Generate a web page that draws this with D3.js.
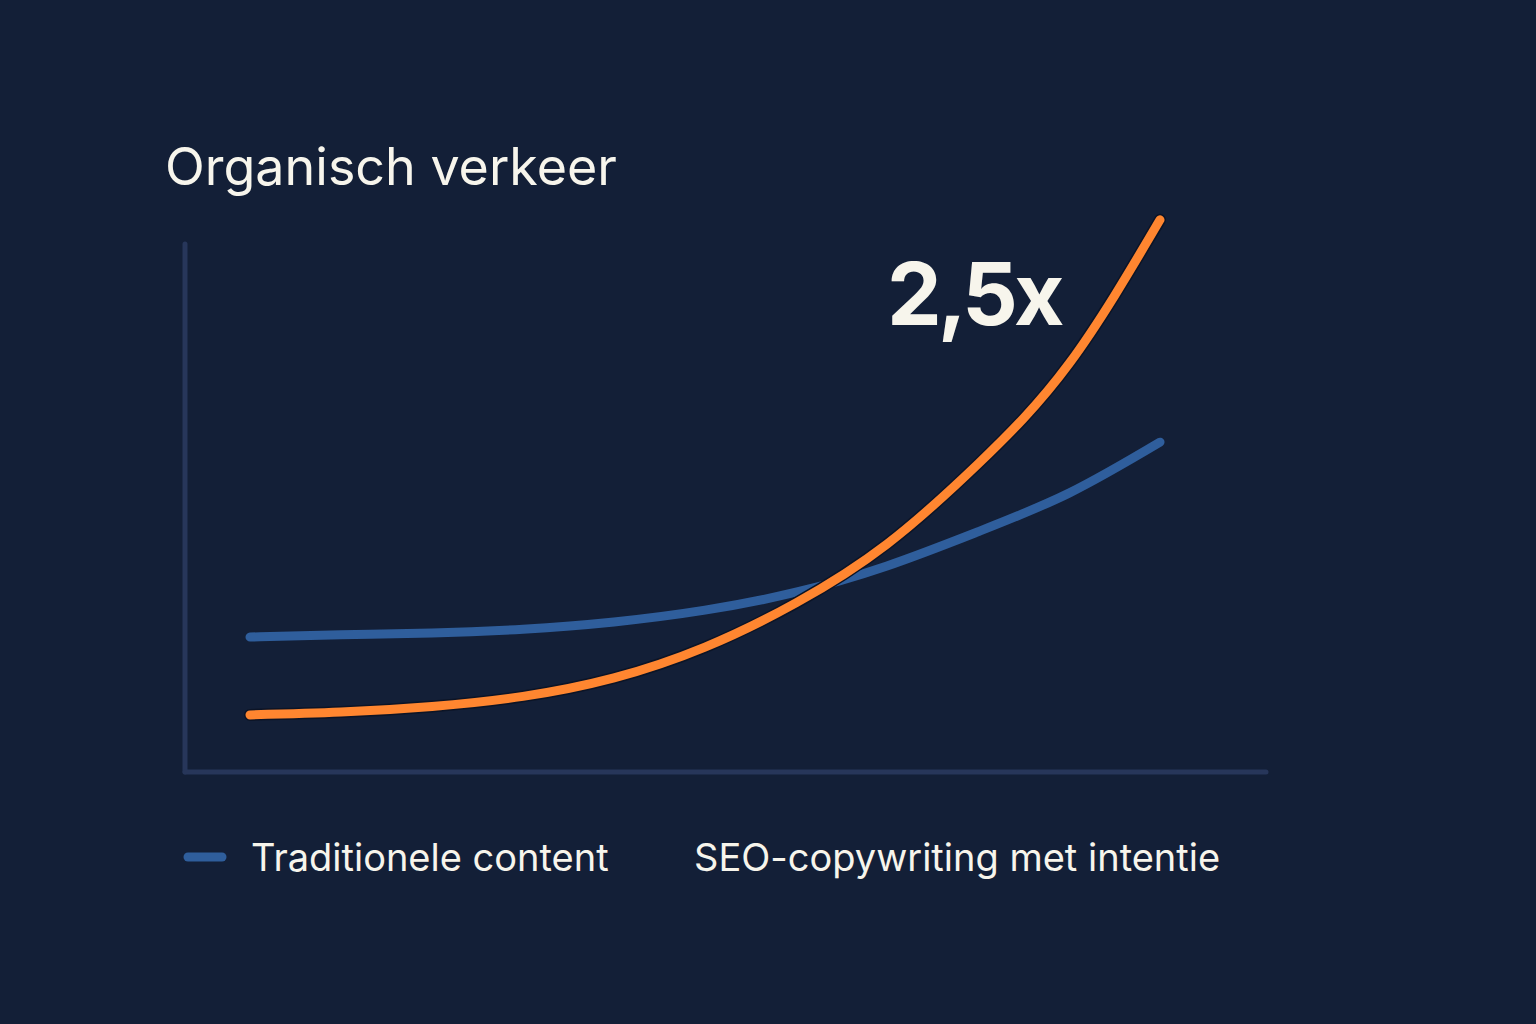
<!DOCTYPE html>
<html>
<head>
  <meta charset="utf-8">
  <title>Organisch verkeer</title>
  <style type="text/css">
    html, body {
      margin: 0;
      padding: 0;
      background-color: #131f37;
    }
    svg {
      display: block;
      font-family: Inter, "Noto Sans", sans-serif;
    }
    text {
      fill: #f7f5ec;
    }
  </style>
  <script src="https://d3js.org/d3.v7.min.js"></script>
</head>
<body>

<script>
// periods along the x axis (no tick labels in the picture)
var periods = [0, 1, 2, 3, 4, 5, 6, 7, 8, 9, 10];

// relative traffic index
var traditioneel = [24.1, 24.5, 24.8, 25.5, 26.8, 28.9, 32.1, 36.8, 42.9, 49.8, 58.9];
var seoIntentie  = [10.2, 10.7, 11.7, 13.5, 16.8, 22.3, 30.2, 40.7, 55.0, 72.9, 98.6];

var seriesNames = ["Traditionele content", "SEO-copywriting met intentie"];
var title = "Organisch verkeer";
var callout = "2,5x";

var width = 1536, height = 1024;

var svg = d3.select("body").append("svg")
  .attr("width", width)
  .attr("height", height);

svg.append("rect")
  .attr("width", width)
  .attr("height", height)
  .attr("fill", "#131f37");

var xscale = d3.scaleLinear()
  .domain([0, 10])
  .range([250, 1160]);

var yscale = d3.scaleLinear()
  .domain([0, 100])
  .range([772, 212]);

// axes: plain rounded lines, no ticks
svg.append("line")
  .attr("x1", 185).attr("x2", 185)
  .attr("y1", 244).attr("y2", yscale(0))
  .attr("stroke", "#27365a")
  .attr("stroke-width", 5)
  .attr("stroke-linecap", "round");

svg.append("line")
  .attr("x1", 185).attr("x2", 1266)
  .attr("y1", yscale(0)).attr("y2", yscale(0))
  .attr("stroke", "#27365a")
  .attr("stroke-width", 5)
  .attr("stroke-linecap", "round");

var line = d3.line()
  .x(function(d, i) { return xscale(periods[i]); })
  .y(function(d) { return yscale(d); })
  .curve(d3.curveNatural);

svg.append("path")
  .datum(traditioneel)
  .attr("d", line)
  .attr("fill", "none")
  .attr("stroke", "#2f5e9c")
  .attr("stroke-width", 9)
  .attr("stroke-linecap", "round");

// thin dark edge under the orange line
svg.append("path")
  .datum(seoIntentie)
  .attr("d", line)
  .attr("fill", "none")
  .attr("stroke", "#0c1426")
  .attr("stroke-width", 12)
  .attr("stroke-linecap", "round");

svg.append("path")
  .datum(seoIntentie)
  .attr("d", line)
  .attr("fill", "none")
  .attr("stroke", "#ff8630")
  .attr("stroke-width", 9)
  .attr("stroke-linecap", "round");

svg.append("text")
  .attr("x", 165)
  .attr("y", 185)
  .style("font-size", "52px")
  .text(title);

svg.append("text")
  .attr("x", 887)
  .attr("y", 325)
  .style("font-size", "87px")
  .style("font-weight", 700)
  .style("letter-spacing", "-4px")
  .text(callout);

// legend
var legend = svg.append("g");

legend.append("line")
  .attr("x1", 188).attr("x2", 222)
  .attr("y1", 857).attr("y2", 857)
  .attr("stroke", "#2f5e9c")
  .attr("stroke-width", 9)
  .attr("stroke-linecap", "round");

legend.append("text")
  .attr("x", 251)
  .attr("y", 871)
  .style("font-size", "38px")
  .text(seriesNames[0]);

legend.append("text")
  .attr("x", 694)
  .attr("y", 871)
  .style("font-size", "38px")
  .text(seriesNames[1]);
</script>

</body>
</html>
